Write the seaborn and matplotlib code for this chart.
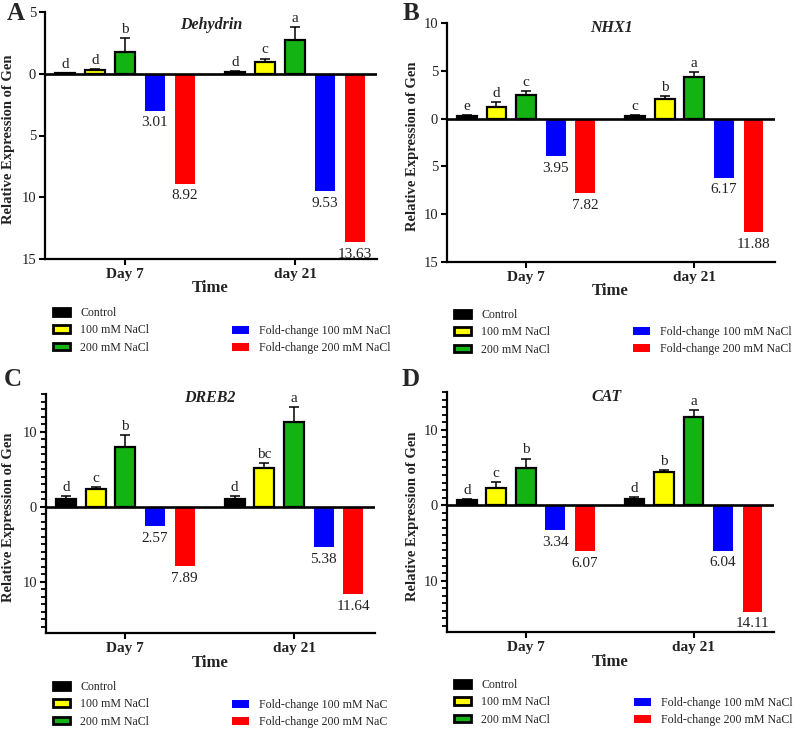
import numpy as np
import pandas as pd
import matplotlib
matplotlib.use("Agg")
import matplotlib.pyplot as plt
import seaborn as sns
from matplotlib.patches import Patch, Rectangle
from matplotlib.ticker import FixedLocator, FuncFormatter, MultipleLocator

# ---------------- data ----------------
times = ["Day 7", "day 21"]
treatments = ["Control", "100 mM NaCl", "200 mM NaCl",
              "Fold-change 100 mM NaCl", "Fold-change 200 mM NaCl"]
colors = ["#000000", "#ffff00", "#13b313", "#0000ff", "#ff0000"]

# means / upper error for Control, 100 mM, 200 mM (Day 7 then day 21)
dehydrin_mean = [0.05, 0.30, 1.75, 0.15, 0.95, 2.70]
dehydrin_err = [0.03, 0.05, 1.15, 0.04, 0.28, 1.10]
dehydrin_fold = [3.01, 8.92, 9.53, 13.63]
dehydrin_letters = ["d", "d", "b", "d", "c", "a"]

nhx1_mean = [0.30, 1.25, 2.45, 0.30, 2.03, 4.40]
nhx1_err = [0.08, 0.50, 0.42, 0.10, 0.35, 0.50]
nhx1_fold = [3.95, 7.82, 6.17, 11.88]
nhx1_letters = ["e", "d", "c", "c", "b", "a"]

dreb2_mean = [1.00, 2.40, 8.00, 1.00, 5.15, 11.33]
dreb2_err = [0.47, 0.27, 1.60, 0.45, 0.63, 1.90]
dreb2_fold = [2.57, 7.89, 5.38, 11.64]
dreb2_letters = ["d", "c", "b", "d", "bc", "a"]

cat_mean = [0.67, 2.30, 4.98, 0.85, 4.36, 11.70]
cat_err = [0.13, 0.80, 1.20, 0.25, 0.34, 0.93]
cat_fold = [3.34, 6.07, 6.04, 14.11]
cat_letters = ["d", "c", "b", "d", "b", "a"]

legend_labels_ab = ["Control", "100 mM NaCl", "200 mM NaCl",
                    "Fold-change 100 mM NaCl", "Fold-change 200 mM NaCl"]
legend_labels_c = ["Control", "100 mM NaCl", "200 mM NaCl",
                   "Fold-change 100 mM NaC", "Fold-change 200 mM NaC"]

# ---------------- style ----------------
sns.set_theme(style="ticks")
plt.rcParams["font.family"] = ["Liberation Serif", "DejaVu Serif"]
SERIF = "Liberation Serif"

W, H = 794, 730
fig = plt.figure(figsize=(W / 100, H / 100), dpi=100)
fig.patch.set_facecolor("white")


def px_axes(l, t, r, b):
    return fig.add_axes([l / W, 1 - b / H, (r - l) / W, (b - t) / H])


def fx(x):
    return x / W


def fy(y):
    return 1 - y / H


panels = [
    dict(letter="A", gene="Dehydrin", box=(45, 12, 377, 259), mean=dehydrin_mean,
         err=dehydrin_err, fold=dehydrin_fold, letters=dehydrin_letters,
         ylim=(-15, 5), major=[5, 0, -5, -10, -15], minor=False,
         letter_pos=(16, 13), gene_pos=(211, 25), ylab_x=9, time_pos=(210, 288),
         leg1=(53, 307), leg2=(232, 325), labels=legend_labels_ab),
    dict(letter="B", gene="NHX1", box=(447, 23, 775, 262), mean=nhx1_mean,
         err=nhx1_err, fold=nhx1_fold, letters=nhx1_letters,
         ylim=(-15, 10), major=[10, 5, 0, -5, -10, -15], minor=False,
         letter_pos=(411, 14), gene_pos=(611, 28), ylab_x=412, time_pos=(610, 291),
         leg1=(454, 309), leg2=(633, 326), labels=legend_labels_ab),
    dict(letter="C", gene="DREB2", box=(46, 394, 375, 633), mean=dreb2_mean,
         err=dreb2_err, fold=dreb2_fold, letters=dreb2_letters,
         ylim=(-16.8, 15), major=[10, 0, -10], minor=True,
         letter_pos=(13, 380), gene_pos=(210, 398), ylab_x=9, time_pos=(210, 663),
         leg1=(53, 681), leg2=(232, 699), labels=legend_labels_c),
    dict(letter="D", gene="CAT", box=(447, 392, 774, 632), mean=cat_mean,
         err=cat_err, fold=cat_fold, letters=cat_letters,
         ylim=(-16.8, 15), major=[10, 0, -10], minor=True,
         letter_pos=(411, 380), gene_pos=(607, 397), ylab_x=412, time_pos=(610, 662),
         leg1=(454, 679), leg2=(634, 697), labels=legend_labels_ab),
]

for p in panels:
    vals = []
    for ti in range(2):
        vals += p["mean"][ti * 3:(ti + 1) * 3]
        vals += [-v for v in p["fold"][ti * 2:(ti + 1) * 2]]
    df = pd.DataFrame({"Time": np.repeat(times, 5),
                       "Treatment": treatments * 2,
                       "Value": vals})
    ax = px_axes(*p["box"])
    sns.barplot(data=df, x="Time", y="Value", hue="Treatment", order=times,
                hue_order=treatments, palette=colors, saturation=1,
                width=0.88, gap=0.33, errorbar=None, legend=False, ax=ax)

    bars = sorted([b for b in ax.patches if isinstance(b, Rectangle)],
                  key=lambda b: b.get_x())
    for idx, bar in enumerate(bars):
        ti, i = divmod(idx, 5)
        xc = bar.get_x() + bar.get_width() / 2
        bar.set_zorder(2)
        if i < 3:
            bar.set_edgecolor("black")
            bar.set_linewidth(1.6)
            k = ti * 3 + i
            m = p["mean"][k]
            e = p["err"][k]
            ax.errorbar([xc], [m], yerr=[[0], [e]], fmt="none", ecolor="black",
                        elinewidth=1.1, capsize=3.5, capthick=1.1, zorder=2.5)
            ax.annotate(p["letters"][k], xy=(xc, m + e), xytext=(0, 1.5),
                        textcoords="offset points", ha="center", va="bottom",
                        fontsize=11, family=SERIF, color="#222222")
        else:
            bar.set_linewidth(0)
            f = p["fold"][ti * 2 + (i - 3)]
            ax.annotate(f"{f:.2f}", xy=(xc, -f), xytext=(0, -4),
                        textcoords="offset points", ha="center", va="top",
                        fontsize=11, family=SERIF, color="#222222")

    ax.axhline(0, color="black", lw=1.9, zorder=3)
    ax.set_xlim(-0.47, 1.48)
    ax.set_ylim(*p["ylim"])
    ax.set_xlabel("")
    ax.set_ylabel("")
    for s in ["top", "right"]:
        ax.spines[s].set_visible(False)
    for s in ["left", "bottom"]:
        ax.spines[s].set_linewidth(1.6)
        ax.spines[s].set_color("black")
    ax.yaxis.set_major_locator(FixedLocator(p["major"]))
    ax.yaxis.set_major_formatter(FuncFormatter(lambda v, pos: f"{abs(v):g}"))
    if p["minor"]:
        ax.yaxis.set_minor_locator(MultipleLocator(1))
        ax.tick_params(axis="y", which="minor", length=3.5, width=1.3, color="black")
    ax.tick_params(axis="both", which="major", length=4.5, width=1.5, color="black",
                   direction="out", labelsize=10.5, labelcolor="#222222", pad=2)
    for lab in ax.get_xticklabels():
        lab.set_fontweight("bold")
        lab.set_fontsize(11)
        lab.set_family(SERIF)
    for lab in ax.get_yticklabels():
        lab.set_family(SERIF)
    ax.set_facecolor("white")

    l, t, r, b = p["box"]
    fig.text(fx(p["letter_pos"][0]), fy(p["letter_pos"][1]), p["letter"],
             fontsize=18, fontweight="bold", family=SERIF, ha="center", va="center")
    fig.text(fx(p["gene_pos"][0]), fy(p["gene_pos"][1]), p["gene"], fontsize=11.5,
             fontweight="bold", fontstyle="italic", family=SERIF, ha="center",
             va="center", color="#222222")
    fig.text(fx(p["ylab_x"]), fy((t + b) / 2 + 4), "Relative Expression of Gen",
             rotation=90, fontsize=10.5, fontweight="bold", family=SERIF,
             ha="center", va="center", color="#222222")
    fig.text(fx(p["time_pos"][0]), fy(p["time_pos"][1]), "Time", fontsize=12,
             fontweight="bold", family=SERIF, ha="center", va="center",
             color="#222222")

    h1 = [Patch(facecolor=colors[k], edgecolor="black", linewidth=2.0) for k in range(3)]
    h2 = [Patch(facecolor=colors[k], edgecolor="none", linewidth=0) for k in range(3, 5)]
    common = dict(loc="upper left", frameon=False, borderpad=0, borderaxespad=0,
                  handlelength=1.45, handleheight=0.6, handletextpad=0.85,
                  labelspacing=0.45, prop=dict(family=SERIF, size=8.6))
    leg1 = fig.legend(h1, p["labels"][:3],
                      bbox_to_anchor=(fx(p["leg1"][0]), fy(p["leg1"][1])), **common)
    leg2 = fig.legend(h2, p["labels"][3:],
                      bbox_to_anchor=(fx(p["leg2"][0]), fy(p["leg2"][1])), **common)

fig.savefig("out.png", dpi=100, facecolor="white")
